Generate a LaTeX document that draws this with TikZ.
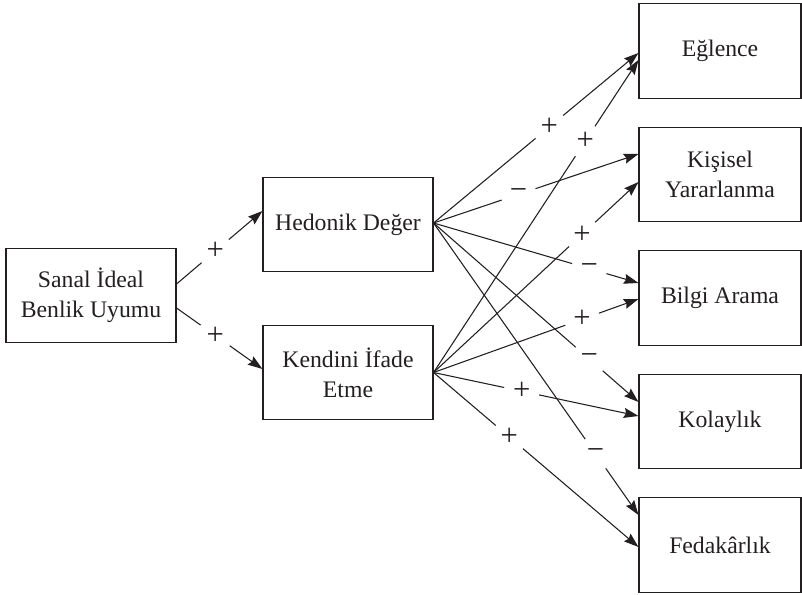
\documentclass[tikz,border=0pt]{standalone}
\usepackage{fontspec}
\setmainfont{Liberation Serif}
\usetikzlibrary{calc, positioning, arrows.meta}
\definecolor{inkBlack}{RGB}{35,31,32}

\begin{document}
\begin{tikzpicture}[
  x=0.75pt, y=-0.75pt,
  font=\rmfamily\fontsize{17.8}{22.5}\selectfont,
  >={Stealth[length=11pt, width=7.5pt, inset=1.5pt]},
  line width=0.8pt, color=inkBlack,
  box/.style={draw, rectangle, align=center, minimum height=71pt, inner sep=2pt},
  sign/.style={circle, inner sep=0pt, minimum size=26pt,
    font=\rmfamily\fontsize{23}{24}\selectfont},
]
\useasboundingbox (0,0) rectangle (802,595);

% --- Left and middle boxes ----------------------------------------
\node[box, minimum width=127.5pt] (san) at (91,295.5)  {Sanal İdeal\\Benlik Uyumu};
\node[box, minimum width=127.5pt] (hed) at (348,224.5) {Hedonik Değer};
\node[box, minimum width=127.5pt] (ken) at (348,372.5) {Kendini İfade\\Etme};

% --- Outcome column -----------------------------------------------
\foreach \name/\y/\txt in {eg/51/Eğlence, kis/174.5/{Kişisel\\Yararlanma},
    bil/298/Bilgi Arama, kol/421.5/Kolaylık, fed/545/Fedakârlık} {
  \node[box, minimum width=121.5pt] (\name) at (720,\y) {\txt};
}

% Paths: source/offset/target/offset/label position/sign
\foreach \from/\fy/\to/\ty/\p/\sgn in {
    san/-11.5/hed/-13.5/0.45/+, san/12.5/ken/-3.5/0.45/+,
    hed/-1.5/eg/2/0.565/+,     ken/0/eg/9/0.74/+,
    hed/-1.5/kis/-20.5/0.415/−, ken/0/kis/7.5/0.725/+,
    hed/-1.5/bil/-15/0.76/−,   ken/0/bil/1/0.725/+,
    hed/-1.5/kol/-19.5/0.76/−, ken/0/kol/-5.5/0.43/+,
    hed/-1.5/fed/-30/0.79/−,   ken/0/fed/2/0.37/+} {
  \path ($(\from.east)+(0,\fy)$) coordinate (s)
     -- node[sign, pos=\p] (lbl) {\sgn} ($(\to.west)+(0,\ty)$) coordinate (t);
  \draw (s) -- (lbl);
  \draw[->] (lbl) -- (t);
}
\end{tikzpicture}
\end{document}
